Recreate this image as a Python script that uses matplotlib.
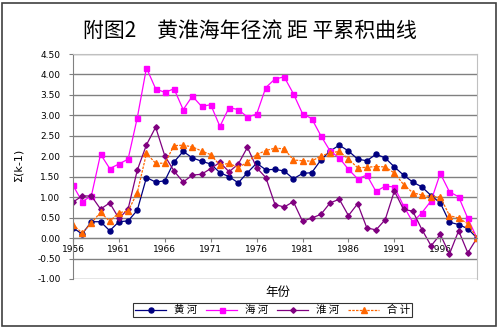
import matplotlib
matplotlib.use("Agg")
import matplotlib.pyplot as plt
from matplotlib.patches import Rectangle
import numpy as np

plt.rcParams['font.family'] = ['Noto Sans CJK SC', 'DejaVu Sans']

years = list(range(1956, 2001))

huang = [0.25, 0.10, 0.40, 0.40, 0.18, 0.40, 0.42, 0.68, 1.48, 1.37,
         1.40, 1.86, 2.12, 1.96, 1.88, 1.81, 1.60, 1.50, 1.35, 1.60,
         1.83, 1.67, 1.68, 1.64, 1.45, 1.58, 1.60, 1.91, 2.13, 2.27,
         2.13, 1.93, 1.89, 2.05, 1.96, 1.74, 1.54, 1.37, 1.25, 1.04,
         0.86, 0.39, 0.33, 0.23, 0.00]

hai = [1.29, 0.89, 1.03, 2.05, 1.70, 1.81, 1.93, 2.94, 4.16, 3.65,
       3.56, 3.65, 3.14, 3.47, 3.22, 3.26, 2.73, 3.19, 3.14, 2.96,
       3.03, 3.68, 3.89, 3.94, 3.53, 3.04, 2.92, 2.50, 2.13, 1.96,
       1.68, 1.45, 1.54, 1.14, 1.27, 1.25, 0.79, 0.39, 0.62, 0.91,
       1.58, 1.13, 1.01, 0.48, 0.00]

huai = [0.88, 1.03, 1.03, 0.71, 0.86, 0.48, 0.71, 1.66, 2.28, 2.71,
        2.01, 1.64, 1.37, 1.54, 1.56, 1.70, 1.85, 1.62, 1.81, 2.22,
        1.72, 1.48, 0.82, 0.76, 0.89, 0.41, 0.49, 0.58, 0.86, 0.95,
        0.55, 0.84, 0.25, 0.20, 0.45, 1.15, 0.70, 0.66, 0.21, -0.19,
        0.09, -0.39, 0.18, -0.36, 0.00]

total = [0.33, 0.12, 0.37, 0.63, 0.41, 0.62, 0.66, 1.11, 2.07, 1.83,
         1.83, 2.26, 2.27, 2.23, 2.13, 2.04, 1.78, 1.83, 1.72, 1.86,
         2.04, 2.14, 2.20, 2.18, 1.91, 1.89, 1.88, 2.01, 2.08, 2.12,
         1.93, 1.72, 1.73, 1.75, 1.74, 1.59, 1.31, 1.11, 1.05, 1.01,
         1.01, 0.55, 0.49, 0.35, 0.00]

labels = ['黄 河', '海 河', '淮 河', '合 计']

fig = plt.figure(figsize=(5, 3.29), dpi=100)
fig.patches.append(Rectangle((0.004, 0.009), 0.988, 0.982, transform=fig.transFigure,
                             fill=False, edgecolor='#404040', linewidth=1.2))

ax = fig.add_axes([73 / 500, 50 / 329, 404 / 500, 225 / 329])
ax.set_xlim(1956, 2000)
ax.set_ylim(-1, 4.5)

yt = np.arange(-1, 4.51, 0.5)
ax.set_yticks(yt)
ax.set_yticklabels(['%.2f' % v for v in yt], fontsize=6.5, family='DejaVu Sans')
for v in yt:
    ax.axhline(v, color='#808080', linewidth=1, zorder=0)

ax.spines['bottom'].set_position(('data', 0))
ax.spines['bottom'].set_color('#808080')
ax.spines['left'].set_color('#808080')
ax.spines['top'].set_color('#c0c0c0')
ax.spines['right'].set_color('#c0c0c0')
ax.set_xticks(range(1956, 2000, 5))
ax.set_xticklabels([str(y) for y in range(1956, 2000, 5)], fontsize=6.5, family='DejaVu Sans')
ax.tick_params(axis='x', direction='out', length=3, color='#808080', pad=2)
ax.tick_params(axis='y', direction='out', length=3, color='#808080', pad=6)

ax.plot(years, huang, color='#000080', marker='o', markersize=3.6, linewidth=0.9, label=labels[0])
ax.plot(years, hai, color='#ff00ff', marker='s', markersize=3.6, linewidth=0.9, label=labels[1])
ax.plot(years, huai, color='#800080', marker='D', markersize=2.8, linewidth=0.9, label=labels[2])
ax.plot(years, total, color='#ff6600', marker='^', markersize=4, linewidth=0.9,
        linestyle=(0, (2, 1)), label=labels[3])

fig.text(0.5, 0.905, '附图2　黄淮海年径流 距 平累积曲线', ha='center', va='center', fontsize=15)
fig.text(0.036, 0.5, 'Σ(k-1)', rotation=90, ha='center', va='center', fontsize=8, family='DejaVu Sans')
fig.text(0.556, 0.11, '年份', ha='center', va='center', fontsize=9)

leg = fig.legend(loc='center', bbox_to_anchor=(0.545, 0.057), ncol=4, fontsize=7.5,
                 frameon=True, fancybox=False, edgecolor='black', handlelength=3.0,
                 borderpad=0.2, columnspacing=0.9, handletextpad=0.7)
leg.get_frame().set_linewidth(0.8)

fig.savefig('out.png', dpi=100)
